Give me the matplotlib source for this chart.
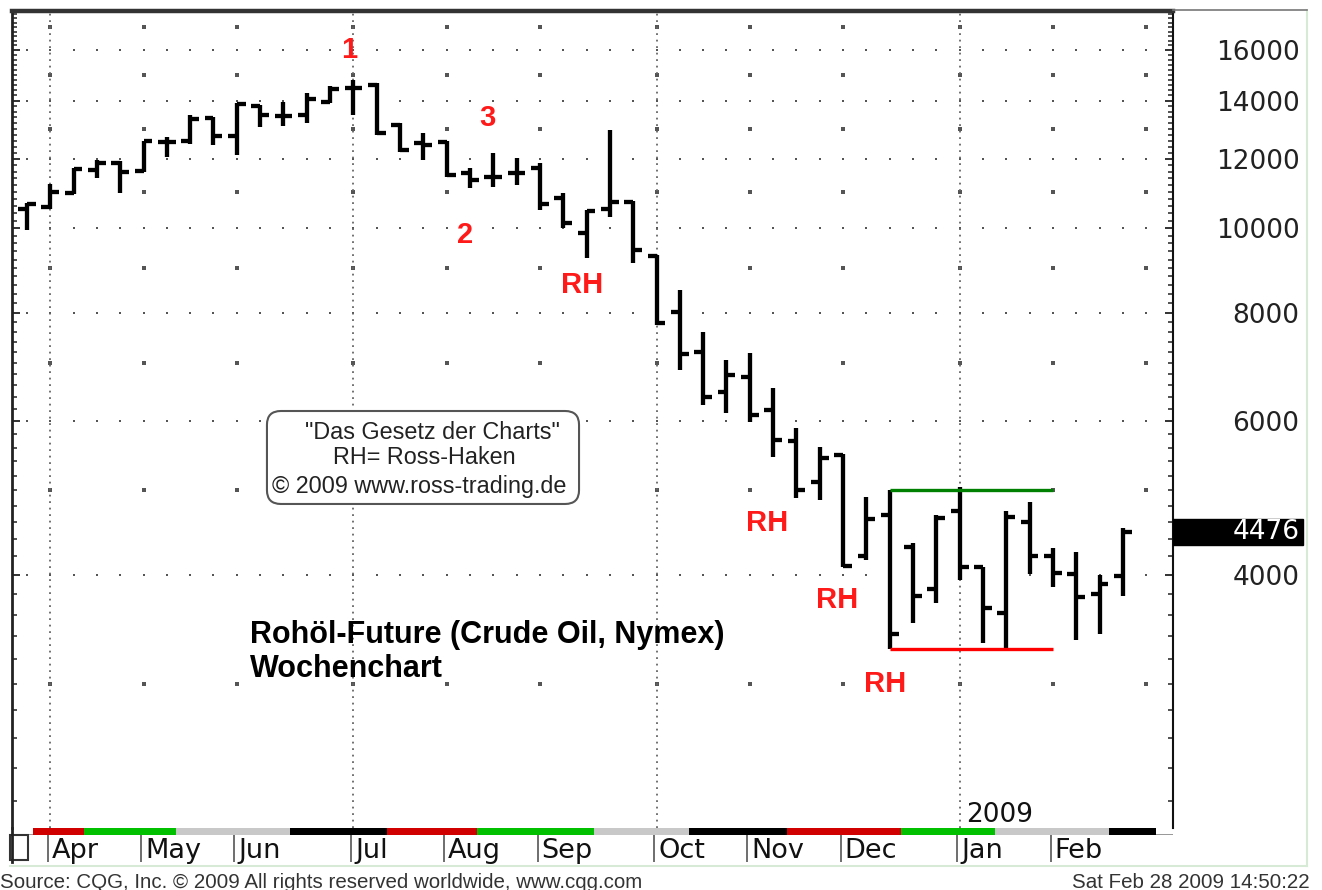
import numpy as np
import pandas as pd
import matplotlib
matplotlib.use('Agg')
import matplotlib.pyplot as plt
from matplotlib.patches import FancyBboxPatch, Rectangle
from matplotlib.ticker import FixedLocator, NullFormatter, FuncFormatter
from matplotlib.transforms import blended_transform_factory
from matplotlib.lines import Line2D

plt.rcParams['font.family'] = ['Liberation Sans', 'DejaVu Sans']

# weekly bars, Crude Oil (Nymex), week starts
weeks = pd.date_range('2008-03-31', periods=49, freq='W-MON')  # last one = empty slot (Mar 2009)
opens = [10520, 10570, 10970, 11660, 11870, 11630, 12550, 12580, 13370, 12750,
         13800, 13440, 13480, 13950, 14470, 14590, 13130, 12520, 12550, 11560,
         11440, 11560, 11720, 10830, 9870, 10520, 10710, 9290, 8010, 7210,
         6490, 6750, 6190, 5700, 5110, 5490, 4200, 4690, 4310, 3850,
         4730, 4080, 3620, 4600, 4200, 4010, 3800, 3990]
highs = [10680, 11230, 11720, 11970, 11940, 12580, 12720, 13480, 13410, 13910,
         13840, 13950, 14280, 14550, 14780, 14670, 13200, 12850, 12580, 11720,
         12190, 12030, 11870, 10970, 10490, 12950, 10740, 9310, 8490, 7600,
         7060, 7190, 6560, 5900, 5610, 5510, 4920, 5010, 4350, 4680,
         5050, 4090, 4730, 4850, 4290, 4250, 4000, 4530]
lows = [9950, 10520, 10940, 11410, 10970, 11600, 12060, 12480, 12450, 12130,
        13060, 13090, 13200, 13910, 13480, 12790, 12220, 11970, 11440, 11110,
        11140, 11200, 10490, 10000, 9240, 10300, 9120, 7740, 6870, 6270,
        6140, 5990, 5460, 4900, 4880, 4080, 4160, 3290, 3520, 3710,
        3950, 3340, 3290, 4010, 3870, 3370, 3420, 3780]
closes = [10660, 11000, 11690, 11870, 11600, 12580, 12550, 13340, 12750, 13870,
          13480, 13440, 14060, 14430, 14470, 12850, 12290, 12450, 11500, 11350,
          11440, 11560, 10660, 10130, 10460, 10710, 9440, 7780, 7170, 6400,
          6790, 6100, 5710, 5010, 5450, 4100, 4640, 3420, 3780, 4650,
          4090, 3670, 4660, 4200, 4020, 3770, 3910, 4476]

price_labels = [4000, 6000, 8000, 10000, 12000, 14000, 16000]
minor_levels = [3000, 5000, 7000, 9000, 11000, 13000, 15000, 17000]

# trading range (Dec 2008 - Feb 2009)
range_top = 5010
range_bottom = 3290
range_first, range_last = 37, 44

# coloured strip under the chart (bar index edges)
strip_edges = [0.26, 2.45, 6.4, 11.3, 15.45, 19.3, 24.3, 28.4, 32.6, 37.5, 41.5, 46.4, 48.4]
strip_colors = ['#d00000', '#00c000', '#c8c8c8', '#000000',
                '#d00000', '#00c000', '#c8c8c8', '#000000',
                '#d00000', '#00c000', '#c8c8c8', '#000000']

annotations = [('1', 13.8, 16000), ('3', 19.74, 13370), ('2', 18.8, 9820),
               ('RH', 23.8, 8600), ('RH', 31.76, 4590), ('RH', 34.76, 3745),
               ('RH', 36.8, 3000)]

x = np.arange(len(opens))
xs = np.arange(len(weeks))
mon = weeks.month.values
month_idx = np.array([i for i in range(1, len(weeks)) if mon[i] != mon[i - 1]])
quarter_idx = [i for i in month_idx if mon[i] in (1, 4, 7, 10)]

W, H = 1322, 890
fig = plt.figure(figsize=(W / 100, H / 100), dpi=100)
ax = fig.add_axes([12 / W, 1 - 828 / H, 1161 / W, 817 / H])

# dotted grid
for lvl in price_labels:
    ax.plot(xs, np.full(len(xs), lvl), ls='none', marker='s', ms=1.6, mew=0,
            color='#555555', zorder=1)
for lvl in minor_levels:
    ax.plot(month_idx, np.full(len(month_idx), lvl), ls='none', marker='s',
            ms=2.3, mew=0, color='#555555', zorder=1)
for q in quarter_idx:
    ax.axvline(q, color='#666666', lw=1.3, ls=(0, (1, 2.6)), zorder=1)

# OHLC bars
lw = 3.1
ax.vlines(x, lows, highs, color='black', lw=lw, zorder=3)
ax.hlines(opens, x - 0.38, x, color='black', lw=lw, zorder=3)
ax.hlines(closes, x, x + 0.38, color='black', lw=lw, zorder=3)

ax.hlines(range_top, range_first, range_last, color='#008000', lw=2.4, zorder=4)
ax.hlines(range_bottom, range_first, range_last, color='#ff0000', lw=2.4, zorder=4)

ax.set_yscale('log')
ax.set_ylim(2050, 17740)
ax.set_xlim(-0.64, 49.15)
ax.set_xticks([])
ax.yaxis.set_major_locator(FixedLocator(price_labels))
ax.yaxis.set_major_formatter(FuncFormatter(lambda v, p: f'{int(v)}'))
ax.yaxis.set_minor_locator(FixedLocator(np.arange(2200, 17800, 200)))
ax.yaxis.set_minor_formatter(NullFormatter())
ax.tick_params(axis='y', which='both', direction='in', left=True, right=True,
               labelleft=False, labelright=True, color='#222222')
ax.tick_params(axis='y', which='major', length=6, width=1.3, labelsize=19,
               pad=91, labelcolor='#222222')
ax.tick_params(axis='y', which='minor', length=3.5, width=1.1)
for t in ax.get_yticklabels():
    t.set_ha('right')
    t.set_family('DejaVu Sans')

ax.spines['top'].set_color('#333333')
ax.spines['top'].set_linewidth(3.2)
ax.spines['left'].set_color('#222222')
ax.spines['left'].set_linewidth(2)
ax.spines['right'].set_color('#111111')
ax.spines['right'].set_linewidth(1.5)
ax.spines['bottom'].set_visible(False)

# last price box
ytr = ax.get_yaxis_transform()
last = closes[-1]
ax.add_patch(Rectangle((1.0, last / 1.035), 0.112, last * 1.035 - last / 1.035,
                       transform=ytr, color='black', clip_on=False, zorder=5))
ax.text(1.1094, last, f'{last}', transform=ytr, ha='right', va='center',
        color='white', fontsize=19, family='DejaVu Sans', clip_on=False, zorder=6)

# red markers
for s, xi, yi in annotations:
    ax.text(xi, yi, s, color='#ff1a1a', fontsize=21, fontweight='bold',
            ha='center', va='center', zorder=5)

ax.text(9.57, 3416, 'Rohöl-Future (Crude Oil, Nymex)', fontsize=22,
        fontweight='bold', ha='left', va='center', zorder=5)
ax.text(9.57, 3120, 'Wochenchart', fontsize=22, fontweight='bold',
        ha='left', va='center', zorder=5)

# info box
ax.add_patch(FancyBboxPatch((0.2196, 0.3966), 0.2688, 0.1138,
                            boxstyle='round,pad=0,rounding_size=0.012',
                            mutation_aspect=1.4, transform=ax.transAxes,
                            fc='white', ec='#555555', lw=1.5, zorder=4))
for s, xa, ya in [('"Das Gesetz der Charts"', 0.3618, 0.4847),
                  ('RH= Ross-Haken', 0.3549, 0.4529),
                  ('© 2009 www.ross-trading.de', 0.3506, 0.4186)]:
    ax.text(xa, ya, s, transform=ax.transAxes, fontsize=16.8, color='#222222',
            ha='center', va='center', zorder=5)

bt = blended_transform_factory(ax.transData, ax.transAxes)
jan = [i for i in month_idx if mon[i] == 1][0]
ax.text(jan + 0.26, 0.016, '2009', transform=bt, fontsize=19,
        family='DejaVu Sans', ha='left', va='center', color='#111111')

# month row
ax2 = fig.add_axes([12 / W, 1 - 862 / H, 1161 / W, 34 / H])
ax2.set_xlim(ax.get_xlim())
ax2.set_ylim(0, 1)
ax2.axis('off')
ax2.axhspan(0.78, 0.83, color='#999999', lw=0)
for e0, e1, c in zip(strip_edges[:-1], strip_edges[1:], strip_colors):
    ax2.axvspan(e0, e1, ymin=0.8, ymax=1.0, color=c, lw=0)
for i in month_idx:
    if i >= len(opens):
        continue
    ax2.vlines(i - 0.1, 0.0, 0.8, color='#555555', lw=1.2)
    ax2.text(i + 0.07, 0.32, weeks[i].strftime('%b'), fontsize=19.5,
             family='DejaVu Sans', ha='left', va='center', color='#111111')
ax2.add_patch(Rectangle((-0.0017, 0.06), 0.0155, 0.73, transform=ax2.transAxes,
                        fc='white', ec='#333333', lw=1.5, clip_on=False))
ax2.plot([0, 0], [0, 1], transform=ax2.transAxes, color='#222222', lw=2,
         clip_on=False)

# outer frame lines
fig.add_artist(Line2D([1307 / W, 1307 / W], [1 - 866 / H, 1 - 10 / H],
                      color='#d6ead6', lw=1.5))
fig.add_artist(Line2D([10 / W, 1307 / W], [1 - 866 / H, 1 - 866 / H],
                      color='#d6ead6', lw=1.5))
fig.add_artist(Line2D([1173 / W, 1307 / W], [1 - 10 / H, 1 - 10 / H],
                      color='#777777', lw=1.2))

fig.text(0.0, 1 - 882 / H, 'Source: CQG, Inc. © 2009 All rights reserved worldwide, www.cqg.com',
         fontsize=14.8, color='#333333', ha='left', va='center')
fig.text(1310 / W, 1 - 882 / H, 'Sat Feb 28 2009 14:50:22', fontsize=14.8,
         color='#333333', ha='right', va='center')

fig.savefig('out.png', dpi=100, facecolor='white')
